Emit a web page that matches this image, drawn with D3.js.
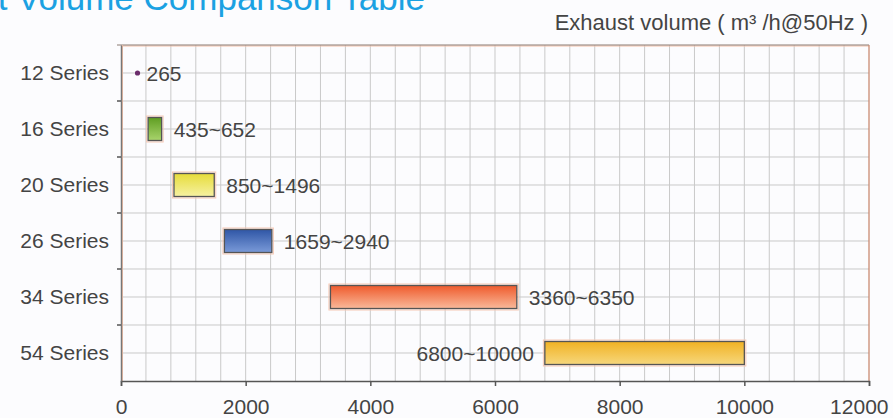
<!DOCTYPE html>
<html><head><meta charset="utf-8">
<script src="https://cdn.jsdelivr.net/npm/d3@7"></script>
<style>
html,body{margin:0;padding:0;background:#fcfcfe;}
svg{display:block;}
text{font-family:"Liberation Sans",Arial,sans-serif;}
</style></head>
<body><svg id="c" width="893" height="418"></svg>
<script>
const categories = ["12 Series","16 Series","20 Series","26 Series","34 Series","54 Series"];
const rangeStart = [265, 435, 850, 1659, 3360, 6800];
const rangeEnd   = [265, 652, 1496, 2420, 6350, 10000];
const rangeLabels = ["265","435~652","850~1496","1659~2940","3360~6350","6800~10000"];
const xTicks = [0,2000,4000,6000,8000,10000,12000];
const gradTop    = [null,"#5f9e22","#e6dc3a","#2f56a6","#ef5a2c","#f1b223"];
const gradBottom = [null,"#a9d46c","#f6f1a2","#7a9ad8","#f9b99a","#f6d77c"];
const titleText = "Exhaust Volume Comparison Table";
const axisTitle = "Exhaust volume ( m\u00b3 /h@50Hz )";

const svg = d3.select("#c");
const M = {l:121, r:869, t:45, b:381};
const x = d3.scaleLinear().domain([0,12000]).range([M.l, M.r]);
const y = d3.scaleBand().domain(categories).range([M.t, M.b]);
const bw = y.bandwidth();
const FS = 21;

const defs = svg.append("defs");
categories.forEach((c,i)=>{
  if(!gradTop[i]) return;
  const g = defs.append("linearGradient").attr("id","g"+i).attr("x1",0).attr("y1",0).attr("x2",0).attr("y2",1);
  g.append("stop").attr("offset","0%").attr("stop-color",gradTop[i]);
  g.append("stop").attr("offset","100%").attr("stop-color",gradBottom[i]);
});

// titles
svg.append("text").attr("x",425).attr("y",10).attr("text-anchor","end")
  .attr("font-size",35).attr("fill","#1ba1e2").text(titleText);
svg.append("text").attr("x",868).attr("y",30).attr("text-anchor","end")
  .attr("font-size",22).attr("fill","#444").text(axisTitle);

// grid
const grid = svg.append("g");
d3.range(400, 12000, 400).forEach(v=>{
  grid.append("line").attr("x1",x(v)).attr("x2",x(v)).attr("y1",M.t).attr("y2",M.b)
    .attr("stroke","#c9c9c9").attr("stroke-width",1);
});
categories.forEach((c,i)=>{
  const yc = y(c)+bw/2;
  grid.append("line").attr("x1",M.l).attr("x2",M.r).attr("y1",yc).attr("y2",yc).attr("stroke","#c9c9c9");
  if(i>0) grid.append("line").attr("x1",M.l).attr("x2",M.r).attr("y1",y(c)).attr("y2",y(c)).attr("stroke","#c9c9c9");
});

// frame
svg.append("line").attr("x1",M.l).attr("x2",M.r).attr("y1",M.t+1).attr("y2",M.t+1).attr("stroke","#f4c0a8").attr("stroke-width",1);
svg.append("line").attr("x1",M.l-4).attr("x2",M.r).attr("y1",M.t).attr("y2",M.t).attr("stroke","#8a7a72").attr("stroke-width",1.2);
svg.append("line").attr("x1",M.r).attr("x2",M.r).attr("y1",M.t).attr("y2",M.b).attr("stroke","#c98a72").attr("stroke-width",1.3);
svg.append("line").attr("x1",M.l+1.5).attr("x2",M.l+1.5).attr("y1",M.t).attr("y2",M.b).attr("stroke","#f4c0a8").attr("stroke-width",1);

// axes
const xAxis = svg.append("g").attr("transform",`translate(0,${M.b})`)
  .call(d3.axisBottom(x).tickValues(xTicks).tickSize(5).tickPadding(13).tickFormat(d3.format("d")));
xAxis.select(".domain").attr("stroke","#555").attr("stroke-width",1.5);
xAxis.selectAll(".tick line").attr("stroke","#555").attr("stroke-width",1.5);
xAxis.selectAll(".tick text").attr("font-size",FS).attr("fill","#444").attr("font-family","Liberation Sans, Arial, sans-serif");
xAxis.selectAll(".tick text").filter(d=>d===12000).attr("text-anchor","end").attr("x",888-x(12000));

const yAxis = svg.append("g").attr("transform",`translate(${M.l},0)`)
  .call(d3.axisLeft(y).tickSize(0).tickPadding(12));
yAxis.select(".domain").attr("stroke","#777").attr("stroke-width",1.5);
yAxis.selectAll(".tick text").attr("font-size",FS).attr("fill","#444").attr("font-family","Liberation Sans, Arial, sans-serif");
categories.slice(1).forEach(c=>{
  svg.append("line").attr("x1",M.l-4).attr("x2",M.l).attr("y1",y(c)).attr("y2",y(c)).attr("stroke","#555").attr("stroke-width",1.5);
});

// bars
const bh = 23;
const marks = svg.append("g");
categories.forEach((c,i)=>{
  const yc = y(c)+bw/2;
  if(rangeStart[i]===rangeEnd[i]){
    marks.append("circle").attr("cx",x(rangeStart[i])).attr("cy",yc).attr("r",2.6).attr("fill","#6b2d6b");
    marks.append("text").attr("x",x(rangeEnd[i])+9).attr("y",yc+7.5).attr("font-size",FS).attr("fill","#444").text(rangeLabels[i]);
    return;
  }
  const x0 = x(rangeStart[i]), x1 = x(rangeEnd[i]);
  marks.append("rect").attr("x",x0-1.5).attr("y",yc-bh/2-1.5).attr("width",x1-x0+3).attr("height",bh+3)
    .attr("fill","none").attr("stroke","#f6c8b4").attr("stroke-width",1);
  marks.append("rect").attr("x",x0).attr("y",yc-bh/2).attr("width",x1-x0).attr("height",bh)
    .attr("fill",`url(#g${i})`).attr("stroke","#555").attr("stroke-width",1.3);
  if(i===categories.length-1){
    marks.append("text").attr("x",x0-11).attr("y",yc+7.5).attr("text-anchor","end").attr("font-size",FS).attr("fill","#444").text(rangeLabels[i]);
  } else {
    marks.append("text").attr("x",x1+12).attr("y",yc+7.5).attr("font-size",FS).attr("fill","#444").text(rangeLabels[i]);
  }
});
</script></body></html>
